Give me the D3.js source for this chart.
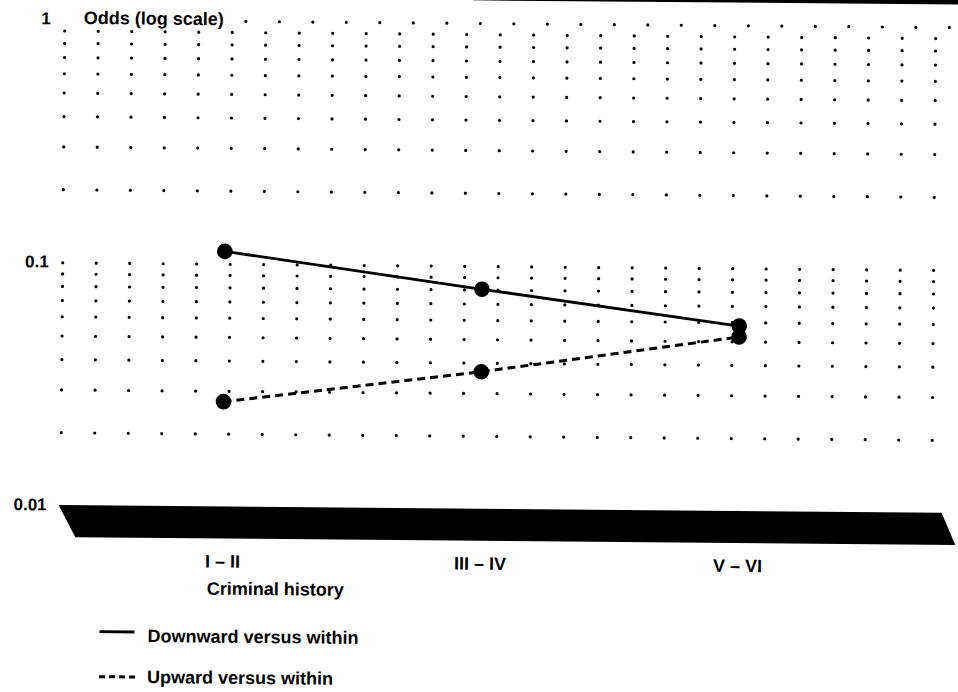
<!DOCTYPE html>
<html>
<head>
<meta charset="utf-8">
<script src="https://cdn.jsdelivr.net/npm/d3@7"></script>
<style>
  html, body { margin: 0; padding: 0; background: #fff; }
  svg { display: block; }
  text { font-family: "Liberation Sans", Arial, Helvetica, sans-serif; font-weight: bold; fill: #000; }
</style>
</head>
<body>
<svg id="chart" width="958" height="692"></svg>
<script>
// ---- data ----
const categories = ["I – II", "III – IV", "V – VI"];
const downward = [0.113, 0.0806, 0.0581];
const upward = [0.0272, 0.0369, 0.0524];
const yTickValues = [1, 0.1, 0.01];
const yTickLabels = ["1", "0.1", "0.01"];
const yTitle = "Odds (log scale)";
const xTitle = "Criminal history";
const seriesNames = ["Downward versus within", "Upward versus within"];

// ---- layout ----
const W = 958, H = 692;
const svg = d3.select("#chart");
svg.append("rect").attr("width", W).attr("height", H).attr("fill", "#fff");

// the scanned page is slightly rotated
const g = svg.append("g").attr("transform", "rotate(0.5,480,346)");

const y = d3.scaleLog().domain([0.01, 1]).range([509.5, 23.5]);
const x = d3.scalePoint().domain(categories).range([224, 739]);

// dot grid
const colXs = d3.range(62, 940, 33.5);
const rowVals = y.ticks().filter(v => v > 0.0105 && v < 0.99);
const dots = [];
rowVals.forEach(v => colXs.forEach(cx => dots.push([cx, y(v)])));
// top row (value 1) is offset and starts after the title
d3.range(243, 952, 33.5).forEach(cx => dots.push([cx, y(1)]));
g.append("g").selectAll("circle").data(dots).join("circle")
  .attr("cx", d => d[0]).attr("cy", d => d[1]).attr("r", 1.6).attr("fill", "#000");

// top dark strip (scan edge)
g.append("path")
  .attr("d", `M470,-40 L1000,-40 L1000,0.4 L470,0.4 Z`)
  .attr("fill", "#000");

// bottom black floor band at 0.01
const yb = y(0.01);
g.append("path")
  .attr("d", `M60,${yb - 0.8} L943,${yb - 0.8} L957,${yb + 31.3} L77,${yb + 31.3} Z`)
  .attr("fill", "#000");

// y tick labels
g.append("g").selectAll("text").data(yTickValues).join("text")
  .attr("x", 48).attr("y", d => y(d) - 1.5).attr("dy", "0.36em")
  .attr("text-anchor", "end").attr("font-size", 17)
  .text((d, i) => yTickLabels[i]);

// y title
g.append("text").attr("x", 81).attr("y", y(1) - 2.5).attr("dy", "0.36em")
  .attr("font-size", 18).text(yTitle);

// x axis labels
const xAxis = d3.axisBottom(x).tickSize(0).tickPadding(0);
const xa = g.append("g").attr("transform", "translate(0,557)").call(xAxis);
xa.select(".domain").remove();
xa.selectAll("text").attr("font-size", 18)
  .attr("font-family", "Liberation Sans, Arial, sans-serif").attr("font-weight", "bold")
  .attr("fill", "#000");

g.append("text").attr("x", 209).attr("y", 597).attr("font-size", 18).text(xTitle);

// lines
const line = d3.line().x((d, i) => x(categories[i])).y(d => y(d));
g.append("path").datum(downward).attr("d", line)
  .attr("fill", "none").attr("stroke", "#000").attr("stroke-width", 2.8);
g.append("path").datum(upward).attr("d", line)
  .attr("fill", "none").attr("stroke", "#000").attr("stroke-width", 3)
  .attr("stroke-dasharray", "8,5");

// markers
[downward, upward].forEach(series => {
  g.append("g").selectAll("circle").data(series).join("circle")
    .attr("cx", (d, i) => x(categories[i])).attr("cy", d => y(d))
    .attr("r", 7.8).attr("fill", "#000");
});

// legend
const lg = g.append("g");
lg.append("line").attr("x1", 102).attr("x2", 137).attr("y1", 635).attr("y2", 635)
  .attr("stroke", "#000").attr("stroke-width", 2.8);
lg.append("text").attr("x", 150).attr("y", 645).attr("font-size", 18).text(seriesNames[0]);
lg.append("line").attr("x1", 102).attr("x2", 138).attr("y1", 680).attr("y2", 680)
  .attr("stroke", "#000").attr("stroke-width", 3).attr("stroke-dasharray", "6,4");
lg.append("text").attr("x", 150).attr("y", 686).attr("font-size", 18).text(seriesNames[1]);
</script>
</body>
</html>
